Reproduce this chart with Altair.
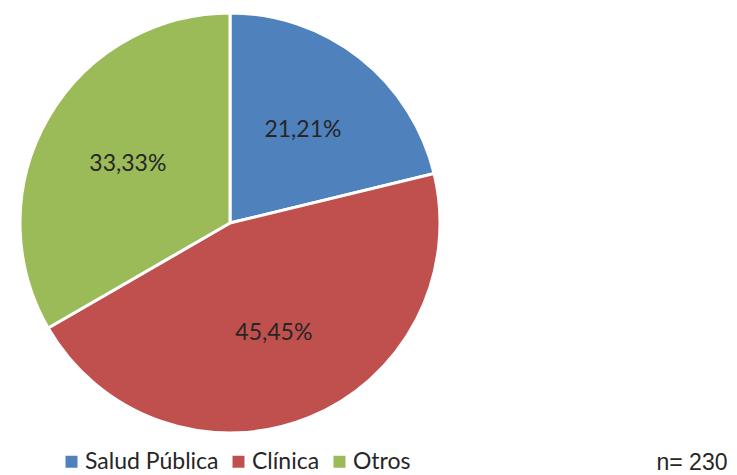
import altair as alt
import pandas as pd

categories = ["Salud Pública", "Clínica", "Otros"]
values = [21.21, 45.45, 33.33]
labels = ["21,21%", "45,45%", "33,33%"]
colors = ["#4F81BD", "#C0504D", "#9BBB59"]
note = "n= 230"

df = pd.DataFrame({"cat": categories, "val": values, "lab": labels,
                   "order": list(range(len(categories)))})

cx, cy, R = 222, 215, 210

base = alt.Chart(df).encode(
    theta=alt.Theta("val:Q", stack=True),
    order=alt.Order("order:Q"),
)

pie = base.mark_arc(outerRadius=R, stroke="white", strokeWidth=3).encode(
    x=alt.value(cx), y=alt.value(cy),
    color=alt.Color("cat:N", sort=categories,
                    scale=alt.Scale(domain=categories, range=colors),
                    legend=alt.Legend(title=None, orient="none", direction="horizontal",
                                      legendX=52, legendY=442, padding=0,
                                      symbolType="square", symbolSize=144,
                                      symbolStrokeWidth=0,
                                      labelFont="Lato", labelFontSize=23,
                                      labelColor="#262626", labelOffset=2,
                                      columnPadding=8, symbolOffset=0)),
)

text = base.mark_text(radius=118, font="Lato", fontSize=23, color="#262626").encode(
    x=alt.value(cx), y=alt.value(cy),
    text="lab:N",
)

n_text = alt.Chart(pd.DataFrame({"t": [note]})).mark_text(
    font="Liberation Sans", fontSize=23, color="#262626", align="center", baseline="alphabetic"
).encode(x=alt.value(684), y=alt.value(462), text="t:N")

chart = alt.layer(pie, text, n_text).properties(
    width=721, height=467, autosize=alt.AutoSizeParams(type="none"), padding=0
).configure_view(stroke=None)

chart.save("out.html", embed_options={"renderer": "svg", "actions": False})
